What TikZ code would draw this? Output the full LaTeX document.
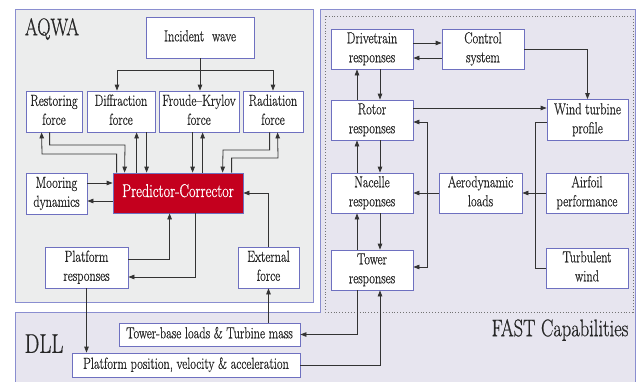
\documentclass[tikz,border=0pt]{standalone}
\usepackage{fontspec}
\setmainfont{Latin Modern Roman}[FakeBold=0.8]
\usetikzlibrary{arrows.meta,calc}
\definecolor{boxblue}{HTML}{6E70C0}
\definecolor{panelblue}{HTML}{8A8ED0}
\definecolor{aqwagray}{HTML}{ECEDED}
\definecolor{lav}{HTML}{E7E5EF}
\definecolor{pcred}{HTML}{C4001E}
\definecolor{linecol}{HTML}{333333}
\newcommand\cs[1]{\scalebox{0.77}[1]{\begin{tabular}{@{}c@{}}#1\end{tabular}}}
\tikzset{
  box/.style={draw=boxblue, fill=white, line width=0.8pt, align=center, inner sep=0pt,
    font=\fontsize{16}{19}\selectfont, text=black!85},
  arr/.style={draw=linecol, line width=0.8pt, -{Triangle[length=6pt,width=4.5pt]}},
  ln/.style={draw=linecol, line width=0.8pt},
  title/.style={inner sep=0pt, text=black!85}
}
\begin{document}
\begin{tikzpicture}[x=1pt,y=-1pt]
\useasboundingbox (0,0) rectangle (640,381);
\clip (0,0) rectangle (640,381);
% panels
\draw[panelblue, line width=0.8pt, fill=aqwagray] (15,9) rectangle (313,302);
\draw[panelblue, line width=0.8pt, fill=lav] (15,390) -- (15,312) -- (320,312) -- (320,9) -- (635,9) -- (635,390);
\draw[dotted, black!55, line width=0.9pt] (325,16) rectangle (633,312);
% titles
\node[title, font=\fontsize{24}{26}\selectfont] (aqwa) at (52,30) {\cs{AQWA}};
\node[title, font=\fontsize{27}{29}\selectfont] (dll) at (44,347) {\cs{DLL}};
\node[title, font=\fontsize{24}{26}\selectfont] (fast) at (560,331) {\cs{FAST Capabilities}};
% AQWA nodes
\node[box, minimum width=108, minimum height=41] (inc) at (200,37.5) {\cs{Incident\hspace{0.35em} wave}};
\node[box, minimum width=56, minimum height=41] (rest) at (54,111.5) {\cs{Restoring\\force}};
\node[box, minimum width=68, minimum height=41] (diff) at (121,111.5) {\cs{Diffraction\\force}};
\node[box, minimum width=80, minimum height=41] (fk) at (199,111.5) {\cs{Froude--Krylov\\force}};
\node[box, minimum width=60, minimum height=41] (rad) at (273,111.5) {\cs{Radiation\\force}};
\node[box, fill=pcred, text=white, minimum width=130, minimum height=40,
  font=\fontsize{18.5}{20}\selectfont] (pc) at (178,193) {\cs{Predictor-Corrector}};
\node[box, minimum width=61, minimum height=41] (moor) at (56.5,193.5) {\cs{Mooring\\dynamics}};
\node[box, minimum width=83, minimum height=41] (plat) at (86.5,267.5) {\cs{Platform\\responses}};
\node[box, minimum width=61, minimum height=41] (ext) at (268.5,267.5) {\cs{External\\force}};
% DLL nodes
\node[box, minimum width=181, minimum height=23] (tbl) at (209.5,334.5) {\cs{Tower-base loads \& Turbine mass}};
\node[box, minimum width=228, minimum height=24] (ppos) at (186,365) {\cs{Platform position, velocity \& acceleration}};
% FAST nodes
\node[box, minimum width=82, minimum height=40] (drv) at (372,49) {\cs{Drivetrain\\responses}};
\node[box, minimum width=82, minimum height=40] (ctrl) at (483,49) {\cs{Control\\system}};
\node[box, minimum width=82, minimum height=40] (rot) at (372,120) {\cs{Rotor\\responses}};
\node[box, minimum width=81, minimum height=41] (wtp) at (587.5,120) {\cs{Wind turbine\\profile}};
\node[box, minimum width=82, minimum height=40] (nac) at (372,193) {\cs{Nacelle\\responses}};
\node[box, minimum width=83, minimum height=40] (aero) at (480.5,193) {\cs{Aerodynamic\\loads}};
\node[box, minimum width=82, minimum height=40] (airf) at (587,193) {\cs{Airfoil\\performance}};
\node[box, minimum width=82, minimum height=40] (turb) at (587,268) {\cs{Turbulent\\wind}};
\node[box, minimum width=82, minimum height=40] (tow) at (372,270) {\cs{Tower\\responses}};
% AQWA connectors
\draw[ln] (inc.south) -- (inc.south |- 0,70);
\draw[arr] (inc.south |- 0,70) -- (inc.south |- fk.north);
\draw[arr] (inc.south |- 0,70) -| (rad.north);
\draw[arr] (inc.south |- 0,70) -| ($(diff.north)+(-4,0)$);
\draw[arr] ($(pc.north west)+(4,0)$) |- (42,154) -- ($(rest.south west)+(16,0)$);
\draw[arr] ($(rest.south west)+(24,0)$) |- (125,145) -- ($(pc.north west)+(12,0)$);
\draw[arr] ($(pc.north west)+(24,0)$) -- ($(diff.south west)+(50,0)$);
\draw[arr] ($(diff.south west)+(60,0)$) -- ($(pc.north west)+(34,0)$);
\draw[arr] ($(fk.south west)+(34,0)$) -- ($(pc.north west)+(80,0)$);
\draw[arr] ($(pc.north west)+(90,0)$) -- ($(fk.south west)+(44,0)$);
\draw[arr] ($(rad.south west)+(27,0)$) |- (223,150) -- ($(pc.north west)+(110,0)$);
\draw[arr] ($(pc.north west)+(119,0)$) |- (278,158) -- ($(rad.south west)+(35,0)$);
\draw[arr] (moor.east |- 0,183) -- (pc.west |- 0,183);
\draw[arr] (pc.west |- 0,201) -- (moor.east |- 0,201);
\draw[arr] (ext.north) |- (pc.east);
\draw[arr] (plat.east |- 0,259) -| ($(pc.south west)+(57,0)$);
\draw[arr] ($(pc.south west)+(83,0)$) |- (plat.east |- 0,277);
\draw[arr] (tbl.north -| ext.north) -- (ext.south);
\draw[arr] (plat.south) -- (plat.south |- ppos.north);
% FAST connectors
\draw[arr] (drv.east |- 0,43) -- (ctrl.west |- 0,43);
\draw[arr] (ctrl.west |- 0,58) -- (drv.east |- 0,58);
\draw[arr] (ctrl.east) -| (wtp.north);
\draw[arr] (rot.east |- 0,108) -- (wtp.west |- 0,108);
\draw[arr] (rot.north -| 357,0) -- (drv.south -| 357,0);
\draw[arr] (drv.south -| 380,0) -- (rot.north -| 380,0);
\draw[arr] (nac.north -| 357,0) -- (rot.south -| 357,0);
\draw[arr] (rot.south -| 380,0) -- (nac.north -| 380,0);
\draw[arr] (tow.north -| 357,0) -- (nac.south -| 357,0);
\draw[arr] (nac.south -| 380,0) -- (tow.north -| 380,0);
\draw[arr] (aero.west) -- (nac.east);
\draw[arr] (aero.west -| 427,0) |- (rot.east |- 0,122);
\draw[arr] (aero.west -| 427,0) |- (tow.east |- 0,267);
\draw[arr] (airf.west) -- (aero.east);
\draw[ln] (wtp.west |- 0,122) -| (turb.west -| 535,0) -- (turb.west);
\draw[arr] (tow.south -| 357,0) |- (tbl.east);
\draw[arr] (ppos.east) -| (tow.south -| 380,0);
\end{tikzpicture}
\end{document}
